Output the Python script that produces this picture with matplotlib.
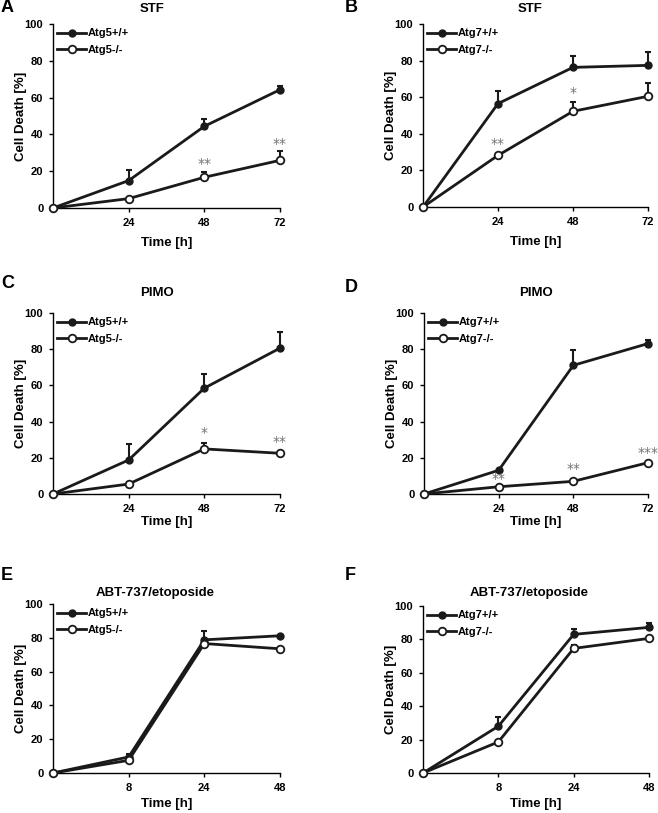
import numpy as np
import matplotlib
matplotlib.use("Agg")
import matplotlib.pyplot as plt

plt.rcParams["font.family"] = ["Liberation Sans", "DejaVu Sans"]
plt.rcParams["font.weight"] = "bold"

# time points (categorical, evenly spaced in the figure)
time_long = ["0", "24", "48", "72"]
time_short = ["0", "8", "24", "48"]

# panel A - STF, Atg5
a_wt = [0, 14.9, 44.4, 64.3]
a_wt_err = [0, 5.9, 4.0, 2.2]
a_ko = [0, 5.1, 16.7, 25.9]
a_ko_err = [0, 0, 2.7, 5.3]
a_stars = {2: "**", 3: "**"}

# panel B - STF, Atg7
b_wt = [0, 56.5, 76.3, 77.4]
b_wt_err = [0, 7.1, 6.0, 7.1]
b_ko = [0, 28.2, 52.3, 60.5]
b_ko_err = [0, 0, 4.9, 7.3]
b_stars = {1: "**", 2: "*"}

# panel C - PIMO, Atg5
c_wt = [0, 18.8, 58.5, 80.6]
c_wt_err = [0, 8.9, 7.7, 9.1]
c_ko = [0, 5.5, 24.9, 22.5]
c_ko_err = [0, 0, 3.5, 0]
c_stars = {2: "*", 3: "**"}

# panel D - PIMO, Atg7
d_wt = [0, 13.1, 71.1, 83.1]
d_wt_err = [0, 0, 8.3, 1.8]
d_ko = [0, 4.0, 7.0, 17.3]
d_ko_err = [0, 0, 0, 1.0]
d_stars = {1: "**", 2: "**", 3: "***"}

# panel E - ABT-737/etoposide, Atg5
e_wt = [0, 9.5, 78.8, 81.2]
e_wt_err = [0, 2.0, 5.4, 0]
e_ko = [0, 7.5, 76.6, 73.5]
e_ko_err = [0, 0, 0, 0]

# panel F - ABT-737/etoposide, Atg7
f_wt = [0, 28.0, 83.0, 87.2]
f_wt_err = [0, 5.6, 3.0, 2.4]
f_ko = [0, 18.6, 74.6, 80.6]
f_ko_err = [0, 0, 2.0, 0]

star_y = {
    "A": {2: 24, 3: 35},
    "B": {1: 34.4, 2: 62.3},
    "C": {2: 33.6, 3: 28.8},
    "D": {1: 8.3, 2: 13.8, 3: 22.8},
}

W, H = 658, 813
INK = "#1a1a1a"


def px_rect(x0, x1, ytop, ybot):
    return [x0 / W, 1 - ybot / H, (x1 - x0) / W, (ybot - ytop) / H]


def draw_panel(fig, rect, times, wt, wt_err, ko, ko_err, gene, title, title_xy,
               letter, letter_xy, xlabelpad, stars=None, star_pos=None):
    ax = fig.add_axes(rect)
    x = np.arange(len(times))
    lo = np.zeros(len(times))
    ax.errorbar(x, wt, yerr=[lo, wt_err], fmt="none", ecolor=INK, capsize=2.5,
                capthick=1.5, elinewidth=1.5, clip_on=False, zorder=2)
    ax.errorbar(x, ko, yerr=[lo, ko_err], fmt="none", ecolor=INK, capsize=2.5,
                capthick=1.5, elinewidth=1.5, clip_on=False, zorder=2)
    ax.plot(x, wt, color=INK, lw=2, marker="o", ms=5, mfc=INK, mec=INK,
            clip_on=False, zorder=3, label=gene + "+/+")
    ax.plot(x, ko, color=INK, lw=2, marker="o", ms=5.5, mfc="white", mec=INK,
            mew=1.3, clip_on=False, zorder=4, label=gene + "-/-")
    if stars:
        for i, s in stars.items():
            ax.text(i, star_pos[i], s, ha="center", va="center", fontsize=10,
                    color="0.45", fontweight="normal", family="DejaVu Sans")
    ax.set_xlim(0, len(times) - 1)
    ax.set_ylim(0, 100)
    ax.set_yticks([0, 20, 40, 60, 80, 100])
    ax.set_xticks(x[1:])
    ax.set_xticklabels(times[1:])
    for s in ["top", "right"]:
        ax.spines[s].set_visible(False)
    for s in ["left", "bottom"]:
        ax.spines[s].set_linewidth(1.0)
    ax.tick_params(labelsize=8, length=3, width=1, pad=4)
    for lab in ax.get_xticklabels() + ax.get_yticklabels():
        lab.set_fontweight("bold")
    ax.set_ylabel("Cell Death [%]", fontsize=9.5, fontweight="bold", labelpad=-1.5)
    ax.set_xlabel("Time [h]", fontsize=9.5, fontweight="bold", labelpad=xlabelpad)
    leg = ax.legend(loc="upper left", frameon=False, fontsize=8,
                    handlelength=2.6, handletextpad=0.1, borderaxespad=0.1,
                    borderpad=0.3, labelspacing=0.55)
    for t in leg.get_texts():
        t.set_fontweight("bold")
    fig.text(title_xy[0] / W, 1 - title_xy[1] / H, title, ha="center",
             va="center", fontsize=9.5, fontweight="bold")
    fig.text(letter_xy[0] / W, 1 - letter_xy[1] / H, letter, ha="left",
             va="center", fontsize=13, fontweight="bold")
    return ax


fig = plt.figure(figsize=(W / 100, H / 100), dpi=100)

draw_panel(fig, px_rect(53, 280, 24, 208), time_long, a_wt, a_wt_err, a_ko,
           a_ko_err, "Atg5", "STF", (152, 9), "A", (1, 8), 7, a_stars,
           star_y["A"])
draw_panel(fig, px_rect(423, 648, 24, 207), time_long, b_wt, b_wt_err, b_ko,
           b_ko_err, "Atg7", "STF", (530, 9), "B", (345, 8), 7, b_stars,
           star_y["B"])
draw_panel(fig, px_rect(53, 280, 313, 494), time_long, c_wt, c_wt_err, c_ko,
           c_ko_err, "Atg5", "PIMO", (157, 293), "C", (1, 283), 2, c_stars,
           star_y["C"])
draw_panel(fig, px_rect(424, 648, 313, 494), time_long, d_wt, d_wt_err, d_ko,
           d_ko_err, "Atg7", "PIMO", (536, 293), "D", (345, 288), 2, d_stars,
           star_y["D"])
draw_panel(fig, px_rect(53, 280, 604, 773), time_short, e_wt, e_wt_err, e_ko,
           e_ko_err, "Atg5", "ABT-737/etoposide", (155, 593), "E", (1, 575), 4)
draw_panel(fig, px_rect(423, 649, 606, 773), time_short, f_wt, f_wt_err, f_ko,
           f_ko_err, "Atg7", "ABT-737/etoposide", (529, 593), "F", (345, 575), 4)

fig.savefig("out.png", dpi=100)
